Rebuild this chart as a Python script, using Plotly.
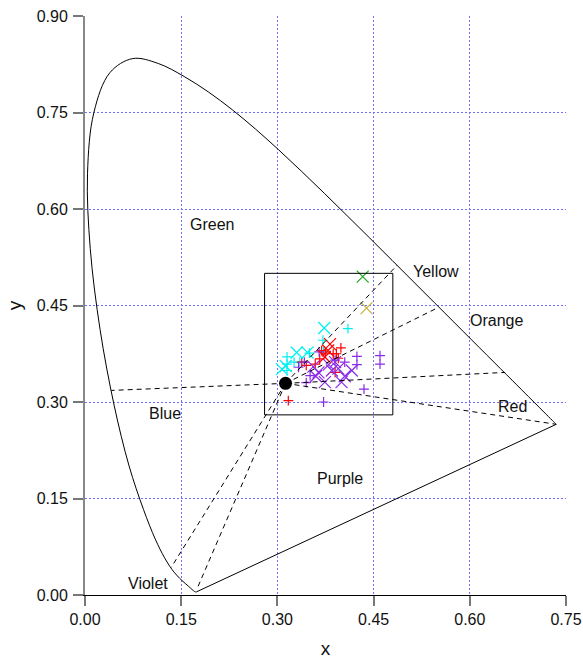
import plotly.graph_objects as go

# CIE 1931 spectral locus (380-700 nm, 5 nm steps)
locus_x = [0.1741, 0.1740, 0.1738, 0.1736, 0.1733, 0.1730, 0.1726, 0.1721, 0.1714, 0.1703,
           0.1689, 0.1669, 0.1644, 0.1611, 0.1566, 0.1510, 0.1440, 0.1355, 0.1241, 0.1096,
           0.0913, 0.0687, 0.0454, 0.0235, 0.0082, 0.0039, 0.0139, 0.0389, 0.0743, 0.1142,
           0.1547, 0.1929, 0.2296, 0.2658, 0.3016, 0.3373, 0.3731, 0.4087, 0.4441, 0.4788,
           0.5125, 0.5448, 0.5752, 0.6029, 0.6270, 0.6482, 0.6658, 0.6801, 0.6915, 0.7006,
           0.7079, 0.7140, 0.7190, 0.7230, 0.7260, 0.7283, 0.7300, 0.7311, 0.7320, 0.7327,
           0.7334, 0.7340, 0.7344, 0.7346, 0.7347]
locus_y = [0.0050, 0.0050, 0.0049, 0.0049, 0.0048, 0.0048, 0.0048, 0.0048, 0.0051, 0.0058,
           0.0069, 0.0086, 0.0109, 0.0138, 0.0177, 0.0227, 0.0297, 0.0399, 0.0578, 0.0868,
           0.1327, 0.2007, 0.2950, 0.4127, 0.5384, 0.6548, 0.7502, 0.8120, 0.8338, 0.8262,
           0.8059, 0.7816, 0.7543, 0.7243, 0.6923, 0.6589, 0.6245, 0.5896, 0.5547, 0.5202,
           0.4866, 0.4544, 0.4242, 0.3965, 0.3725, 0.3514, 0.3340, 0.3197, 0.3083, 0.2993,
           0.2920, 0.2859, 0.2809, 0.2770, 0.2740, 0.2717, 0.2700, 0.2689, 0.2680, 0.2673,
           0.2666, 0.2660, 0.2656, 0.2654, 0.2653]

# line of purples
purple_line_x = [0.7347, 0.1741]
purple_line_y = [0.2653, 0.0050]

white_x = [0.3127]
white_y = [0.3290]

# hue boundary end points on the locus
bound_x = [0.487, 0.551, 0.655, 0.7347, 0.041, 0.1345, 0.174]
bound_y = [0.513, 0.447, 0.346, 0.2653, 0.318, 0.043, 0.008]

box_x = [0.28, 0.48]
box_y = [0.28, 0.50]

label_text = ["Green", "Yellow", "Orange", "Red", "Blue", "Purple", "Violet"]
label_x = [0.198, 0.548, 0.642, 0.667, 0.124, 0.398, 0.098]
label_y = [0.576, 0.503, 0.427, 0.293, 0.282, 0.181, 0.018]

cyan_x_x = [0.373, 0.330, 0.347, 0.307, 0.313]
cyan_x_y = [0.415, 0.377, 0.377, 0.351, 0.356]
cyan_p_x = [0.410, 0.371, 0.350, 0.315, 0.315, 0.315, 0.335, 0.326, 0.372]
cyan_p_y = [0.414, 0.396, 0.376, 0.370, 0.359, 0.349, 0.362, 0.362, 0.378]

red_x_x = [0.382, 0.374, 0.379]
red_x_y = [0.390, 0.370, 0.380]
red_p_x = [0.399, 0.387, 0.392, 0.375, 0.359, 0.390, 0.317, 0.366, 0.345, 0.369, 0.338, 0.395]
red_p_y = [0.384, 0.375, 0.375, 0.376, 0.359, 0.346, 0.302, 0.367, 0.357, 0.380, 0.362, 0.368]

purple_x_x = [0.416, 0.400, 0.374, 0.385, 0.364, 0.356, 0.395, 0.380, 0.405, 0.360, 0.390]
purple_x_y = [0.349, 0.331, 0.331, 0.349, 0.346, 0.355, 0.352, 0.358, 0.340, 0.340, 0.362]
purple_p_x = [0.424, 0.424, 0.435, 0.372, 0.460, 0.460, 0.333, 0.351, 0.345, 0.390, 0.365, 0.405, 0.342]
purple_p_y = [0.371, 0.358, 0.320, 0.300, 0.372, 0.359, 0.354, 0.341, 0.330, 0.365, 0.378, 0.362, 0.362]

green_x_x = [0.433]
green_x_y = [0.495]
gold_x_x = [0.439]
gold_x_y = [0.446]

fig = go.Figure()

fig.add_trace(go.Scatter(x=locus_x, y=locus_y, mode="lines", line_shape="spline",
                         line=dict(color="black", width=1, smoothing=1.0), hoverinfo="skip"))
fig.add_trace(go.Scatter(x=purple_line_x, y=purple_line_y, mode="lines",
                         line=dict(color="black", width=1), hoverinfo="skip"))

fig.add_shape(type="rect", xref="x", yref="y", x0=box_x[0], x1=box_x[1], y0=box_y[0], y1=box_y[1],
              line=dict(color="black", width=1))

def markers(xs, ys, color, symbol, size):
    fig.add_trace(go.Scatter(x=xs, y=ys, mode="markers",
                             marker=dict(symbol=symbol, size=size, color=color,
                                         line=dict(color=color, width=1.2))))

CYAN = "#00f0f0"
RED = "#ff0000"
PURPLE = "#8a2be8"
GREEN = "#22a822"
GOLD = "#c8b040"

markers(cyan_p_x, cyan_p_y, CYAN, "cross-thin-open", 7)
markers(red_p_x, red_p_y, RED, "cross-thin-open", 7)
markers(purple_p_x, purple_p_y, PURPLE, "cross-thin-open", 7)
markers(cyan_x_x, cyan_x_y, CYAN, "x-thin-open", 12)
markers(purple_x_x, purple_x_y, PURPLE, "x-thin-open", 12)
markers(red_x_x, red_x_y, RED, "x-thin-open", 12)
markers(green_x_x, green_x_y, GREEN, "x-thin-open", 12)
markers(gold_x_x, gold_x_y, GOLD, "x-thin-open", 12)

for bx, by in zip(bound_x, bound_y):
    fig.add_trace(go.Scatter(x=[white_x[0], bx], y=[white_y[0], by], mode="lines",
                             line=dict(color="black", width=1, dash="5px,4px"), hoverinfo="skip"))

fig.add_trace(go.Scatter(x=white_x, y=white_y, mode="markers",
                         marker=dict(symbol="circle", size=13, color="black")))

for t, lx, ly in zip(label_text, label_x, label_y):
    fig.add_annotation(x=lx, y=ly, xref="x", yref="y", text=t, showarrow=False,
                       font=dict(size=16, color="#111"))

grid = "rgb(110,110,255)"
fig.update_layout(
    width=583, height=659,
    margin=dict(l=85, r=17, t=16, b=64, autoexpand=False),
    plot_bgcolor="white", paper_bgcolor="white",
    showlegend=False,
    font=dict(family="Liberation Sans, Arial, sans-serif", size=16, color="#111"),
    xaxis=dict(range=[0, 0.75], tickvals=[0, 0.15, 0.30, 0.45, 0.60, 0.75], tickformat=".2f",
               showgrid=True, gridcolor=grid, griddash="2px,2px", gridwidth=1,
               zeroline=False, showline=True, linecolor="black", linewidth=1,
               ticks="outside", ticklen=10, tickcolor="#777", tickwidth=2,
               automargin=False,
               title=dict(text="x", standoff=16), tickfont=dict(size=16)),
    yaxis=dict(range=[0, 0.9], tickvals=[0, 0.15, 0.30, 0.45, 0.60, 0.75, 0.90], tickformat=".2f",
               showgrid=True, gridcolor=grid, griddash="2px,2px", gridwidth=1,
               zeroline=False, showline=True, linecolor="#888", linewidth=2,
               ticks="outside", ticklen=10, tickcolor="#777", tickwidth=2,
               automargin=False, ticklabelstandoff=2,
               title=dict(text="y", standoff=10), tickfont=dict(size=16)),
)

fig.write_html("out.html", config={"displayModeBar": False},
               post_script="document.body.style.margin='0';document.body.style.overflow='hidden';")
